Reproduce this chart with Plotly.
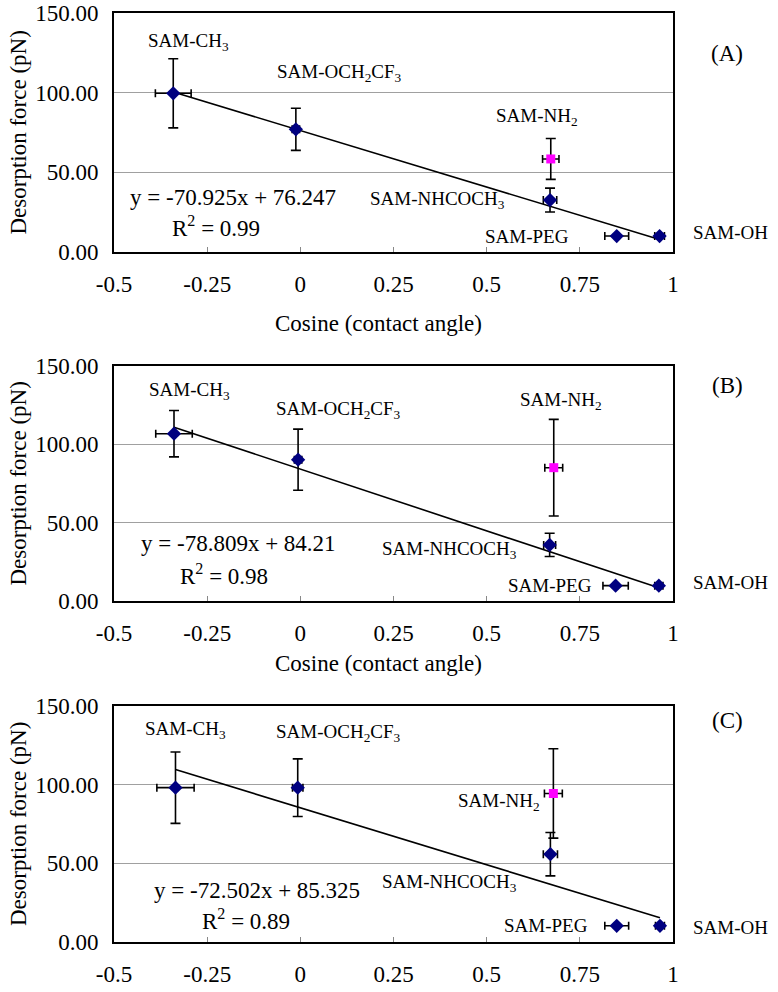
import plotly.graph_objects as go

# ---------------- data ----------------
x_tick_vals = [-0.5, -0.25, 0, 0.25, 0.5, 0.75, 1]
x_tick_text = ["-0.5", "-0.25", "0", "0.25", "0.5", "0.75", "1"]
y_tick_vals = [0, 50, 100, 150]

surfaces = ["SAM-CH<sub>3</sub>", "SAM-OCH<sub>2</sub>CF<sub>3</sub>",
            "SAM-NHCOCH<sub>3</sub>", "SAM-PEG", "SAM-OH"]
nh2_name = "SAM-NH<sub>2</sub>"

# Panel A
cos_A = [-0.341, -0.012, 0.670, 0.849, 0.964]
cos_err_A = [0.048, 0.010, 0.018, 0.032, 0.013]
force_A = [99.6, 77.0, 32.6, 10.0, 10.0]
force_err_A = [21.7, 13.2, 7.5, 0.0, 0.0]
nh2_cos_A = [0.672]
nh2_cos_err_A = [0.022]
nh2_force_A = [58.4]
nh2_force_err_A = [12.8]
fit_A = [-70.925, 76.247, 0.99]

# Panel B
cos_B = [-0.339, -0.006, 0.669, 0.846, 0.962]
cos_err_B = [0.049, 0.010, 0.016, 0.034, 0.011]
force_B = [106.8, 90.2, 35.8, 9.8, 9.8]
force_err_B = [14.8, 19.5, 7.4, 0.0, 0.0]
nh2_cos_B = [0.680]
nh2_cos_err_B = [0.024]
nh2_force_B = [85.1]
nh2_force_err_B = [30.8]
fit_B = [-78.809, 84.21, 0.98]

# Panel C
cos_C = [-0.335, -0.007, 0.671, 0.849, 0.965]
cos_err_C = [0.050, 0.014, 0.019, 0.032, 0.012]
force_C = [98.1, 98.1, 55.8, 10.3, 10.3]
force_err_C = [22.7, 18.3, 13.8, 0.0, 0.0]
nh2_cos_C = [0.679]
nh2_cos_err_C = [0.024]
nh2_force_C = [94.4]
nh2_force_err_C = [28.4]
fit_C = [-72.502, 85.325, 0.89]

panel_tags = ["(A)", "(B)", "(C)"]

# ---------------- layout helpers ----------------
W, H = 778, 992
FONT = "Liberation Serif"
x_px = (114, 673)
panels_px = [(13, 252), (366, 601), (706, 942)]   # top, bottom of each plot area

def ydom(top, bottom):
    return [1 - bottom / H, 1 - top / H]

# label positions (data coords) for each panel, in order of surfaces + NH2
label_pos = [
    [(-0.299, 131.8), (0.104, 112.3), (0.369, 32.6), (0.608, 10.0), (1.155, 12.0), (0.635, 84.7)],
    [(-0.298, 134.0), (0.103, 121.9), (0.399, 32.6), (0.670, 10.2), (1.155, 11.5), (0.699, 127.9)],
    [(-0.309, 134.7), (0.103, 132.6), (0.399, 37.3), (0.658, 10.3), (1.155, 9.5), (0.532, 88.8)],
]
eq_pos = [[(-0.181, 34.5), (-0.226, 15.7)],
          [(-0.166, 37.0), (-0.205, 16.6)],
          [(-0.117, 33.0), (-0.147, 14.0)]]
tag_y_px = [53, 385, 720]
xtitle_y_px = [323, 663, None]

panels = [
    (cos_A, cos_err_A, force_A, force_err_A, nh2_cos_A, nh2_cos_err_A, nh2_force_A, nh2_force_err_A, fit_A),
    (cos_B, cos_err_B, force_B, force_err_B, nh2_cos_B, nh2_cos_err_B, nh2_force_B, nh2_force_err_B, fit_B),
    (cos_C, cos_err_C, force_C, force_err_C, nh2_cos_C, nh2_cos_err_C, nh2_force_C, nh2_force_err_C, fit_C),
]


def to_paper(xv, yv, i):
    """convert data coords of panel i to paper coords (for labels outside the x range)"""
    top, bottom = panels_px[i]
    px = x_px[0] + (xv + 0.5) / 1.5 * (x_px[1] - x_px[0])
    py = bottom - yv / 150 * (bottom - top)
    return px / W, 1 - py / H


fig = go.Figure()
annotations = []
layout = dict(width=W, height=H, autosize=False,
              margin=dict(l=0, r=0, t=0, b=0, pad=0, autoexpand=False),
              paper_bgcolor="white", plot_bgcolor="white",
              showlegend=False, font=dict(family=FONT, color="black"))

for i, (cx, cxe, fy, fye, nx, nxe, ny, nye, fit) in enumerate(panels):
    sfx = "" if i == 0 else str(i + 1)
    xa, ya = "x" + sfx, "y" + sfx
    slope, intercept, r2 = fit

    # trendline over range of the blue series
    xs = [min(cx), max(cx)]
    fig.add_trace(go.Scatter(x=xs, y=[slope * v + intercept for v in xs],
                             mode="lines", line=dict(color="black", width=1.6),
                             xaxis=xa, yaxis=ya, hoverinfo="skip"))
    # blue series
    fig.add_trace(go.Scatter(
        x=cx, y=fy, mode="markers", xaxis=xa, yaxis=ya,
        marker=dict(symbol="diamond", size=11, color="#000080"),
        error_y=dict(type="data", array=fye, color="black", thickness=1.6, width=5),
        error_x=dict(type="data", array=cxe, color="black", thickness=1.6, width=4),
    ))
    # NH2 series
    fig.add_trace(go.Scatter(
        x=nx, y=ny, mode="markers", xaxis=xa, yaxis=ya,
        marker=dict(symbol="square", size=9, color="#FF00FF"),
        error_y=dict(type="data", array=nye, color="black", thickness=1.6, width=5),
        error_x=dict(type="data", array=nxe, color="black", thickness=1.6, width=4),
    ))

    top, bottom = panels_px[i]
    layout["xaxis" + sfx] = dict(
        domain=[x_px[0] / W, x_px[1] / W], anchor=ya, range=[-0.5, 1],
        tickvals=x_tick_vals, ticktext=x_tick_text, ticks="inside", ticklen=5,
        tickcolor="#888888", tickwidth=1, showgrid=False, zeroline=False,
        showline=True, linecolor="black", linewidth=1.6, mirror=True,
        tickfont=dict(family=FONT, size=23, color="black"), ticklabelstandoff=11,
    )
    layout["yaxis" + sfx] = dict(
        domain=ydom(top, bottom), anchor=xa, range=[0, 150],
        tickvals=y_tick_vals, tickformat=".2f", ticks="",
        showgrid=True, gridcolor="#a0a0a0", gridwidth=1, zeroline=False,
        showline=True, linecolor="black", linewidth=1.6, mirror=True,
        tickfont=dict(family=FONT, size=23, color="black"), ticklabelstandoff=9,
    )

    names = surfaces + [nh2_name]
    for name, (lx, ly) in zip(names, label_pos[i]):
        px, py = to_paper(lx, ly, i)
        annotations.append(dict(text=name, x=px, y=py, xref="paper", yref="paper",
                                xanchor="center", yanchor="middle", showarrow=False,
                                font=dict(family=FONT, size=19, color="black")))
    eq_text = "y = %sx + %s" % (("%g" % slope), ("%g" % intercept))
    r2_text = "R<sup>2</sup> = %.2f" % r2
    for txt, (ex, ey) in zip([eq_text, r2_text], eq_pos[i]):
        annotations.append(dict(text=txt, x=ex, y=ey, xref=xa, yref=ya,
                                xanchor="center", yanchor="middle", showarrow=False,
                                font=dict(family=FONT, size=23, color="black")))
    annotations.append(dict(text=panel_tags[i], x=727 / W, y=1 - tag_y_px[i] / H,
                            xref="paper", yref="paper", xanchor="center", yanchor="middle",
                            showarrow=False, font=dict(family=FONT, size=23, color="black")))
    annotations.append(dict(text="Desorption force (pN)", x=18 / W,
                            y=1 - (top + bottom) / 2 / H, xref="paper", yref="paper",
                            xanchor="center", yanchor="middle", textangle=-90,
                            showarrow=False, font=dict(family=FONT, size=23, color="black")))
    if xtitle_y_px[i] is not None:
        annotations.append(dict(text="Cosine (contact angle)", x=378 / W,
                                y=1 - xtitle_y_px[i] / H, xref="paper", yref="paper",
                                xanchor="center", yanchor="middle", showarrow=False,
                                font=dict(family=FONT, size=23, color="black")))

layout["annotations"] = annotations
fig.update_layout(**layout)
fig.write_html("out.html", config={"displayModeBar": False},
               post_script="document.body.style.margin='0px';document.body.style.overflow='hidden';")
